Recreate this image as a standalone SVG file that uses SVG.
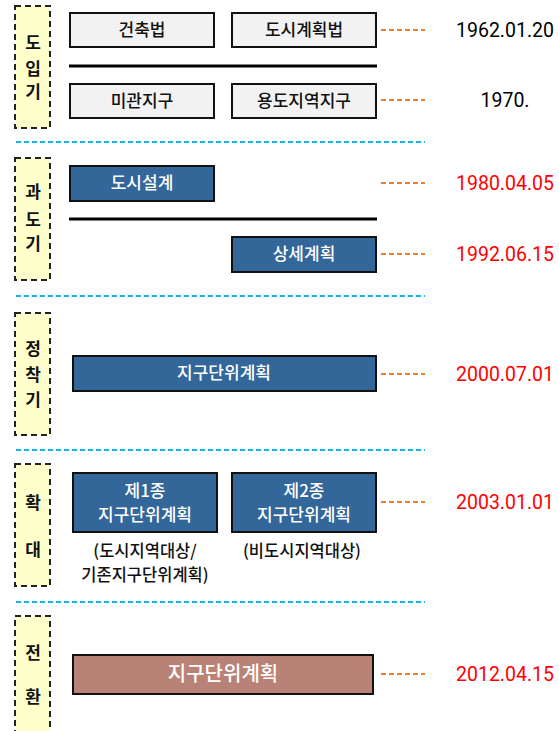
<svg xmlns="http://www.w3.org/2000/svg" width="559" height="731" viewBox="0 0 559 731">
<style>
text{font-family:"Noto Sans CJK KR","Noto Sans",sans-serif}
.phase{fill:#FFFFCC;stroke:#222;stroke-width:2;stroke-dasharray:6 4}
.pl{font-size:17px;font-weight:700;fill:#111;text-anchor:middle}
.gray{fill:#F2F2F2;stroke:#111;stroke-width:2}
.blue{fill:#336699;stroke:#111;stroke-width:2}
.brown{fill:#B98276;stroke:#111;stroke-width:2}
.bt{font-size:17px;font-weight:500;fill:#111;text-anchor:middle}
.wt{font-size:17px;font-weight:500;fill:#fff;text-anchor:middle}
.sep{stroke:#1AB0E8;stroke-width:2;stroke-dasharray:5 3}
.bar{stroke:#000;stroke-width:3}
.od{stroke:#ED7D31;stroke-width:2;stroke-dasharray:5 3}
.date{font-family:Roboto,"Liberation Sans",sans-serif;font-size:19.5px;text-anchor:middle}
.red{fill:#FF0000}
.blk{fill:#000}
.note{font-size:16.5px;font-weight:500;fill:#111;text-anchor:middle}
</style>
<rect width="559" height="731" fill="#fff"/>
<g id="phases">
<g id="phase1"><rect class="phase" x="15" y="6" width="35" height="122"/>
<text class="pl" x="33" y="49">도</text><text class="pl" x="33" y="75">입</text><text class="pl" x="33" y="98">기</text></g>
<g id="phase2"><rect class="phase" x="15" y="158" width="35" height="122"/>
<text class="pl" x="33" y="198">과</text><text class="pl" x="33" y="226">도</text><text class="pl" x="33" y="250">기</text></g>
<g id="phase3"><rect class="phase" x="15" y="313" width="35" height="122"/>
<text class="pl" x="33" y="355">정</text><text class="pl" x="33" y="381">착</text><text class="pl" x="33" y="406">기</text></g>
<g id="phase4"><rect class="phase" x="15" y="464" width="35" height="122"/>
<text class="pl" x="33" y="509">확</text><text class="pl" x="33" y="556">대</text></g>
<g id="phase5"><rect class="phase" x="15" y="616" width="35" height="125"/>
<text class="pl" x="33" y="659">전</text><text class="pl" x="33" y="703">환</text></g>
</g>
<g id="connectors">
<line class="sep" x1="16" y1="142" x2="425" y2="142"/>
<line class="sep" x1="16" y1="296" x2="425" y2="296"/>
<line class="sep" x1="16" y1="450" x2="425" y2="450"/>
<line class="sep" x1="16" y1="602" x2="425" y2="602"/>
<line class="bar" x1="69" y1="66" x2="377" y2="66"/>
<line class="bar" x1="69" y1="219" x2="377" y2="219"/>
<line class="od" x1="381" y1="30" x2="425" y2="30"/>
<line class="od" x1="381" y1="100" x2="425" y2="100"/>
<line class="od" x1="381" y1="183" x2="425" y2="183"/>
<line class="od" x1="381" y1="254" x2="425" y2="254"/>
<line class="od" x1="381" y1="374" x2="425" y2="374"/>
<line class="od" x1="381" y1="502" x2="425" y2="502"/>
<line class="od" x1="381" y1="674" x2="425" y2="674"/>
</g>
<g id="n-geonchuk"><rect class="gray" x="70" y="13" width="144" height="34"/><text class="bt" x="142" y="36">건축법</text></g>
<g id="n-dosi"><rect class="gray" x="232" y="13" width="144" height="34"/><text class="bt" x="304" y="36">도시계획법</text></g>
<g id="n-migwan"><rect class="gray" x="70" y="84" width="144" height="34"/><text class="bt" x="142" y="107">미관지구</text></g>
<g id="n-yongdo"><rect class="gray" x="232" y="84" width="144" height="34"/><text class="bt" x="304" y="107">용도지역지구</text></g>
<g id="n-dosiseolgye"><rect class="blue" x="70" y="166" width="144" height="35"/><text class="wt" x="142" y="189">도시설계</text></g>
<g id="n-sangse"><rect class="blue" x="232" y="237" width="144" height="35"/><text class="wt" x="304" y="260">상세계획</text></g>
<g id="n-jigu"><rect class="blue" x="73" y="356" width="303" height="35"/><text class="wt" x="224" y="379">지구단위계획</text></g>
<g id="n-je1"><rect class="blue" x="73" y="473" width="144" height="59"/><text class="wt" x="145" y="497">제1종</text><text class="wt" x="145" y="521">지구단위계획</text></g>
<g id="n-je2"><rect class="blue" x="232" y="473" width="144" height="59"/><text class="wt" x="304" y="497">제2종</text><text class="wt" x="304" y="521">지구단위계획</text></g>
<g id="notes"><text class="note" x="145" y="557">(도시지역대상/</text><text class="note" x="145" y="581">기존지구단위계획)</text><text class="note" x="302" y="557">(비도시지역대상)</text></g>
<g id="n-jigu2"><rect class="brown" x="73" y="655" width="300" height="39"/><text class="wt" x="223" y="681" style="font-size:20px">지구단위계획</text></g>
<g id="dates">
<text class="date blk" x="505" y="37">1962.01.20</text>
<text class="date blk" x="505" y="107">1970.</text>
<text class="date red" x="505" y="190">1980.04.05</text>
<text class="date red" x="505" y="261">1992.06.15</text>
<text class="date red" x="505" y="381">2000.07.01</text>
<text class="date red" x="505" y="509">2003.01.01</text>
<text class="date red" x="505" y="681">2012.04.15</text>
</g>
</svg>
